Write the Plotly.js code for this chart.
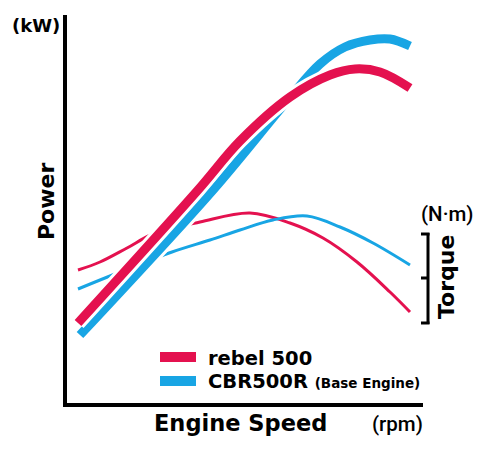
<!DOCTYPE html>
<html><head><meta charset="utf-8">
<script src="https://cdn.plot.ly/plotly-3.0.1.min.js"></script>
<style>html,body{margin:0;padding:0;background:#fff}#chart{width:496px;height:450px}</style>
</head><body><div id="chart"></div>
<script>
// ---- data (relative units, no scale printed on the chart) ----
const seriesNames = ['rebel 500', 'CBR500R'];
const seriesNote = '(Base Engine)';

const rebelPowerSpeed = [13, 133, 175, 225, 265, 290, 315, 345];
const rebelPower      = [82, 215, 264, 308, 330, 336, 333, 317];

const cbrPowerSpeed = [15, 148, 222, 255, 280, 305, 325, 345];
const cbrPower      = [70, 215, 304, 341, 358, 365, 366, 359];

const rebelTorqueSpeed = [13, 35, 62, 88, 135, 185, 225, 258, 292, 325, 345];
const rebelTorque      = [135, 143, 157, 171, 183, 192, 182, 167, 143, 113, 93];

const cbrTorqueSpeed = [13, 55, 107, 145, 175, 208, 242, 275, 308, 345];
const cbrTorque      = [116, 133, 153, 165, 175, 185, 189, 178, 162, 140];

const axisLabels = {x: 'Engine Speed', xUnit: '(rpm)', y: 'Power', yUnit: '(kW)', y2: 'Torque', y2Unit: '(N\u00b7m)'};

// ---- styling ----
const RED = '#E4114F', BLUE = '#18A5E4';
const W = 496, H = 450, L = 67, R = 73, T = 15, B = 47;
const pw = W - L - R, ph = H - T - B;
const px = v => (v - L) / pw;          // page pixel -> paper x
const py = v => (H - B - v) / ph;      // page pixel -> paper y

function line(x, y, color, width) {
  return {x, y, type: 'scatter', mode: 'lines', showlegend: false, hoverinfo: 'skip',
          line: {color, width, shape: 'spline', smoothing: 1}};
}

const traces = [
  line(rebelTorqueSpeed, rebelTorque, RED, 3),
  line(cbrTorqueSpeed, cbrTorque, BLUE, 3),
  line(cbrPowerSpeed, cbrPower, '#ffffff', 15),
  line(cbrPowerSpeed, cbrPower, BLUE, 9),
  line(rebelPowerSpeed, rebelPower, '#ffffff', 15),
  line(rebelPowerSpeed, rebelPower, RED, 9)
];

const heavy = 'DejaVu Sans, Liberation Sans, Arial, sans-serif';
const medium = 'Roboto, DejaVu Sans, sans-serif';
function ann(text, x, y, size, opts) {
  return Object.assign({text, xref: 'paper', yref: 'paper', x: px(x), y: py(y), showarrow: false,
    xanchor: 'center', yanchor: 'middle', font: {family: heavy, size, color: '#000', weight: 'bold'}}, opts || {});
}

const annotations = [
  ann(axisLabels.yUnit, 35.5, 25, 18),
  ann(axisLabels.y, 47, 202, 22, {textangle: -90}),
  ann(axisLabels.x, 240, 423, 22.5),
  ann(axisLabels.xUnit, 397, 424, 20.5, {font: {family: medium, size: 20.5, color: '#000', weight: 500}}),
  ann(axisLabels.y2Unit, 447, 214, 20.5, {font: {family: medium, size: 20.5, color: '#000', weight: 500}}),
  ann(axisLabels.y2, 446, 277, 22, {textangle: -90}),
  ann(seriesNames[0], 206, 358, 19.5, {xanchor: 'left'}),
  ann(seriesNames[1] + ' <span style="font-size:13.5px">' + seriesNote + '</span>', 206, 381, 19.5, {xanchor: 'left'})
];

const shapes = [
  // legend swatches
  {type: 'rect', xref: 'paper', yref: 'paper', x0: px(160), x1: px(196), y0: py(352), y1: py(362), fillcolor: RED, line: {width: 0}},
  {type: 'rect', xref: 'paper', yref: 'paper', x0: px(160), x1: px(196), y0: py(376), y1: py(386), fillcolor: BLUE, line: {width: 0}},
  // torque bracket
  {type: 'line', xref: 'paper', yref: 'paper', x0: px(428), x1: px(428), y0: py(233), y1: py(324), line: {color: '#000', width: 3}},
  {type: 'line', xref: 'paper', yref: 'paper', x0: px(421), x1: px(429.5), y0: py(234), y1: py(234), line: {color: '#000', width: 3}},
  {type: 'line', xref: 'paper', yref: 'paper', x0: px(421), x1: px(428), y0: py(278), y1: py(278), line: {color: '#000', width: 3}},
  {type: 'line', xref: 'paper', yref: 'paper', x0: px(421), x1: px(429.5), y0: py(323), y1: py(323), line: {color: '#000', width: 3}}
];

const layout = {
  width: W, height: H, margin: {l: L, r: R, t: T, b: B, pad: 0},
  paper_bgcolor: '#fff', plot_bgcolor: '#fff', showlegend: false,
  xaxis: {range: [2, 358], showgrid: false, zeroline: false, showticklabels: false, ticks: '',
          showline: true, linecolor: '#000', linewidth: 4, fixedrange: true},
  yaxis: {range: [2, 390], showgrid: false, zeroline: false, showticklabels: false, ticks: '',
          showline: true, linecolor: '#000', linewidth: 4, fixedrange: true},
  annotations, shapes
};

Plotly.newPlot('chart', traces, layout, {staticPlot: true, displayModeBar: false});
</script></body></html>
